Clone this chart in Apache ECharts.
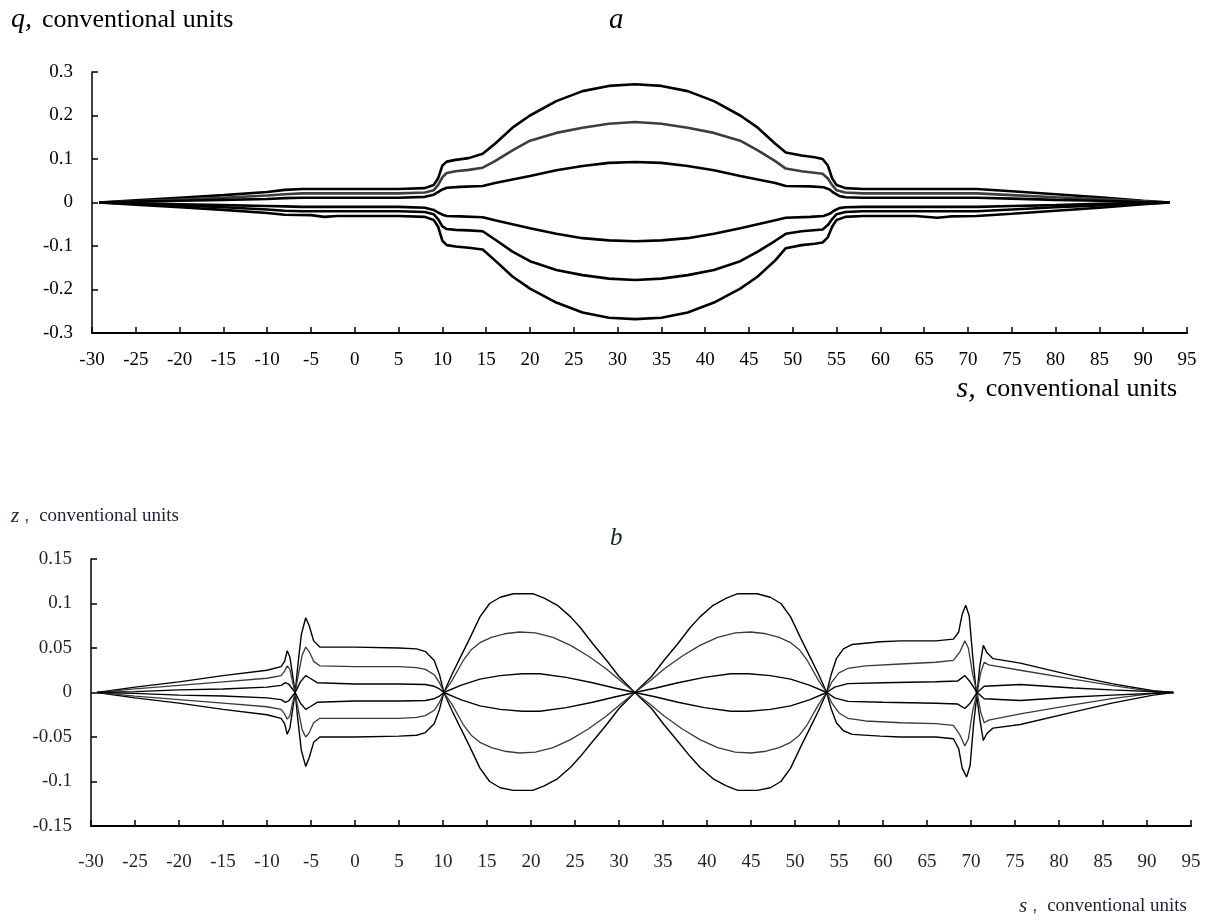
<!DOCTYPE html>
<html><head><meta charset="utf-8">
<script src="https://cdn.jsdelivr.net/npm/echarts@6/dist/echarts.min.js"></script>
<style>html,body{margin:0;padding:0;background:#fff}#c{width:1206px;height:922px}</style>
</head><body><div id="c"></div>
<script>
// ---- Chart a: q(s) ----
const qOutUp = [[-29.2,0],[-25,0.005],[-20,0.011],[-15,0.017],[-10,0.024],[-8,0.029],[-6,0.031],[0,0.031],[5,0.031],[8,0.033],[9,0.04],[9.5,0.055],[10,0.085],[10.5,0.094],[11.5,0.098],[13,0.102],[14.6,0.112],[16,0.135],[18,0.172],[20,0.2],[23,0.233],[26,0.256],[29,0.268],[32,0.272],[35,0.268],[38,0.256],[41,0.233],[44,0.2],[46,0.172],[48,0.135],[49.2,0.115],[51,0.108],[52.5,0.104],[53.4,0.1],[54,0.085],[54.5,0.055],[55,0.04],[56,0.033],[58,0.031],[65,0.031],[71,0.031],[75,0.026],[80,0.019],[85,0.012],[90,0.004],[93,0]];
const qMidUp = [[-29.2,0],[-25,0.003],[-20,0.007],[-15,0.011],[-10,0.016],[-8,0.019],[-6,0.021],[0,0.021],[5,0.021],[8,0.023],[9,0.028],[9.5,0.04],[10,0.058],[10.5,0.068],[11.5,0.072],[13,0.075],[14.6,0.08],[16,0.095],[18,0.12],[20,0.142],[23,0.16],[26,0.172],[29,0.181],[32,0.185],[35,0.181],[38,0.172],[41,0.16],[44,0.142],[46,0.12],[48,0.095],[49.2,0.078],[51,0.072],[53.4,0.066],[54,0.055],[54.5,0.04],[55,0.028],[56,0.023],[58,0.021],[65,0.021],[71,0.021],[75,0.017],[80,0.012],[85,0.008],[90,0.003],[93,0]];
const qInUp = [[-29.2,0],[-25,0.002],[-20,0.004],[-15,0.006],[-10,0.008],[-8,0.01],[-6,0.011],[0,0.011],[5,0.011],[8,0.013],[9,0.018],[9.5,0.024],[10,0.03],[10.5,0.034],[12,0.036],[14.6,0.038],[16,0.045],[18,0.053],[20,0.061],[23,0.074],[26,0.084],[29,0.091],[32,0.093],[35,0.091],[38,0.084],[41,0.074],[44,0.061],[46,0.053],[48,0.045],[49.2,0.038],[52,0.037],[53.5,0.035],[54.2,0.03],[54.7,0.022],[55.3,0.015],[56,0.012],[58,0.011],[65,0.011],[71,0.011],[75,0.009],[80,0.006],[85,0.004],[90,0.001],[93,0]];
const qInDn = [[-29.2,0],[-25,-0.002],[-20,-0.004],[-15,-0.006],[-10,-0.008],[-8,-0.009],[-6,-0.01],[0,-0.01],[5,-0.01],[8,-0.012],[9,-0.017],[9.5,-0.023],[10,-0.028],[10.5,-0.031],[12,-0.032],[14.6,-0.034],[16,-0.041],[18,-0.05],[20,-0.059],[23,-0.072],[26,-0.082],[29,-0.087],[32,-0.089],[35,-0.087],[38,-0.082],[41,-0.072],[44,-0.059],[46,-0.05],[48,-0.041],[49.2,-0.035],[52,-0.033],[53.5,-0.031],[54.2,-0.026],[54.7,-0.019],[55.3,-0.013],[56,-0.011],[58,-0.01],[65,-0.01],[71,-0.01],[75,-0.008],[80,-0.006],[85,-0.003],[90,-0.001],[93,0]];
const qMidDn = [[-29.2,0],[-25,-0.003],[-20,-0.007],[-15,-0.011],[-10,-0.016],[-8,-0.019],[-6,-0.02],[0,-0.02],[5,-0.02],[8,-0.022],[9,-0.027],[9.5,-0.038],[10,-0.055],[10.5,-0.061],[11.5,-0.063],[13,-0.064],[14.6,-0.066],[16,-0.085],[18,-0.113],[20,-0.135],[23,-0.155],[26,-0.167],[29,-0.175],[32,-0.178],[35,-0.175],[38,-0.167],[41,-0.155],[44,-0.135],[46,-0.113],[48,-0.088],[49.2,-0.072],[51,-0.066],[53.4,-0.062],[54,-0.052],[54.5,-0.038],[55,-0.027],[56,-0.022],[58,-0.02],[65,-0.02],[71,-0.02],[75,-0.016],[80,-0.011],[85,-0.007],[90,-0.003],[93,0]];
const qOutDn = [[-29.2,0],[-25,-0.005],[-20,-0.011],[-15,-0.017],[-10,-0.024],[-8,-0.028],[-5,-0.029],[-3.5,-0.033],[-2,-0.031],[0,-0.031],[5,-0.031],[8,-0.033],[9,-0.04],[9.5,-0.055],[10,-0.088],[10.5,-0.098],[11.5,-0.101],[13,-0.104],[14.6,-0.108],[16,-0.133],[18,-0.17],[20,-0.198],[23,-0.23],[26,-0.253],[29,-0.265],[32,-0.268],[35,-0.265],[38,-0.253],[41,-0.23],[44,-0.198],[46,-0.17],[48,-0.133],[49.2,-0.105],[51,-0.098],[52.5,-0.095],[53.4,-0.092],[54,-0.08],[54.5,-0.055],[55,-0.04],[56,-0.033],[58,-0.031],[64,-0.031],[66.5,-0.035],[68,-0.032],[71,-0.031],[75,-0.026],[80,-0.019],[85,-0.012],[90,-0.004],[93,0]];

// ---- Chart b: z(s) ----
const zOutA = [[-29.3,0],[-25,-0.006],[-20,-0.012],[-15,-0.019],[-10,-0.025],[-8.4,-0.029],[-8,-0.035],[-7.7,-0.047],[-7.4,-0.04],[-7.1,-0.02],[-6.8,0],[-6.5,0.03],[-6.1,0.065],[-5.6,0.084],[-5.2,0.075],[-4.7,0.058],[-4,0.051],[0,0.051],[5,0.05],[7,0.049],[8,0.046],[9,0.036],[9.6,0.02],[10.1,0],[11,0.02],[12,0.04],[13,0.06],[14.2,0.085],[15.3,0.1],[16.5,0.107],[18,0.111],[20.2,0.111],[21.5,0.106],[23,0.098],[24.5,0.085],[25.6,0.073],[27,0.055],[28.6,0.036],[30,0.018],[31.8,0],[33.7,0.018],[35.1,0.036],[36.7,0.055],[38.1,0.073],[39.2,0.085],[40.7,0.098],[42.2,0.106],[43.5,0.111],[45.7,0.111],[47.2,0.107],[48.4,0.1],[49.5,0.085],[50.7,0.06],[51.7,0.04],[52.7,0.02],[53.6,0],[54.1,0.02],[54.7,0.038],[55.5,0.049],[56.5,0.054],[59.7,0.057],[62,0.058],[66,0.058],[68,0.06],[68.6,0.068],[69,0.088],[69.4,0.098],[69.8,0.086],[70.2,0.04],[70.6,0],[71,-0.03],[71.4,-0.054],[71.8,-0.046],[72.5,-0.04],[75.6,-0.036],[81.6,-0.022],[86,-0.012],[90.7,-0.003],[93,0]];
const zOutB = [[-29.3,0],[-25,0.006],[-20,0.012],[-15,0.019],[-10,0.025],[-8.4,0.029],[-8,0.035],[-7.7,0.047],[-7.4,0.04],[-7.1,0.02],[-6.8,0],[-6.5,-0.03],[-6.1,-0.065],[-5.6,-0.083],[-5.2,-0.073],[-4.7,-0.056],[-4,-0.05],[0,-0.05],[5,-0.049],[7,-0.048],[8,-0.045],[9,-0.035],[9.6,-0.019],[10.1,0],[11,-0.02],[12,-0.04],[13,-0.06],[14.2,-0.085],[15.3,-0.1],[16.5,-0.107],[18,-0.11],[20.2,-0.11],[21.5,-0.105],[23,-0.097],[24.5,-0.084],[25.6,-0.072],[27,-0.055],[28.6,-0.036],[30,-0.018],[31.8,0],[33.7,-0.018],[35.1,-0.036],[36.7,-0.055],[38.1,-0.072],[39.2,-0.084],[40.7,-0.097],[42.2,-0.105],[43.5,-0.11],[45.7,-0.11],[47.2,-0.107],[48.4,-0.1],[49.5,-0.085],[50.7,-0.06],[51.7,-0.04],[52.7,-0.02],[53.6,0],[54.1,-0.018],[54.7,-0.034],[55.5,-0.043],[56.5,-0.047],[59.7,-0.049],[62,-0.05],[66,-0.05],[68,-0.052],[68.6,-0.063],[69,-0.085],[69.5,-0.095],[69.9,-0.082],[70.3,-0.035],[70.7,0],[71,0.03],[71.4,0.053],[71.8,0.045],[72.5,0.038],[75.6,0.033],[81.6,0.019],[86,0.01],[90.7,0.002],[93,0]];
const zMidC = [[-29.3,0],[-25,-0.004],[-20,-0.008],[-15,-0.012],[-10,-0.016],[-8.4,-0.019],[-8,-0.024],[-7.7,-0.03],[-7.4,-0.026],[-7.1,-0.012],[-6.8,0],[-6.4,0.022],[-6,0.042],[-5.6,0.051],[-5.2,0.046],[-4.7,0.035],[-4,0.03],[0,0.029],[5,0.029],[7,0.028],[8,0.026],[9,0.02],[9.6,0.011],[10.1,0],[11,0.013],[12.3,0.036],[13.2,0.048],[14.2,0.056],[15.5,0.062],[17,0.066],[18.7,0.068],[20.5,0.067],[22.5,0.062],[24.5,0.053],[26.5,0.041],[28.5,0.027],[30.2,0.013],[31.8,0],[33.5,0.013],[35.2,0.027],[37.2,0.041],[39.2,0.053],[41.2,0.062],[43.2,0.067],[45,0.068],[46.7,0.066],[48.2,0.062],[49.5,0.056],[50.5,0.048],[51.4,0.036],[52.7,0.013],[53.6,0],[54.2,0.012],[55,0.022],[56,0.027],[58,0.03],[62,0.032],[66,0.034],[68,0.036],[68.7,0.045],[69.3,0.058],[69.7,0.05],[70.2,0.02],[70.7,0],[71.1,-0.022],[71.5,-0.034],[72,-0.031],[75.6,-0.024],[81.6,-0.014],[86,-0.007],[90.7,-0.001],[93,0]];
const zMidD = [[-29.3,0],[-25,0.004],[-20,0.008],[-15,0.012],[-10,0.016],[-8.4,0.019],[-8,0.024],[-7.7,0.03],[-7.4,0.026],[-7.1,0.012],[-6.8,0],[-6.4,-0.022],[-6,-0.042],[-5.6,-0.05],[-5.2,-0.045],[-4.7,-0.034],[-4,-0.029],[0,-0.029],[5,-0.029],[7,-0.028],[8,-0.026],[9,-0.02],[9.6,-0.011],[10.1,0],[11,-0.013],[12.3,-0.036],[13.2,-0.048],[14.2,-0.056],[15.5,-0.062],[17,-0.066],[18.7,-0.068],[20.5,-0.067],[22.5,-0.062],[24.5,-0.053],[26.5,-0.041],[28.5,-0.027],[30.2,-0.013],[31.8,0],[33.5,-0.013],[35.2,-0.027],[37.2,-0.041],[39.2,-0.053],[41.2,-0.062],[43.2,-0.067],[45,-0.068],[46.7,-0.066],[48.2,-0.062],[49.5,-0.056],[50.5,-0.048],[51.4,-0.036],[52.7,-0.013],[53.6,0],[54.2,-0.012],[55,-0.023],[56,-0.029],[58,-0.032],[62,-0.034],[66,-0.035],[68,-0.037],[68.7,-0.047],[69.3,-0.06],[69.7,-0.052],[70.2,-0.02],[70.7,0],[71.1,0.022],[71.5,0.034],[72,0.031],[75.6,0.025],[81.6,0.015],[86,0.008],[90.7,0.001],[93,0]];
const zInE = [[-29.3,0],[-25,-0.001],[-20,-0.003],[-15,-0.004],[-10,-0.006],[-8.4,-0.008],[-7.9,-0.011],[-7.5,-0.009],[-6.8,0],[-6.2,0.012],[-5.6,0.019],[-5.1,0.016],[-4.3,0.011],[0,0.0095],[5,0.0095],[8,0.009],[9,0.007],[9.6,0.004],[10.1,0],[12,0.008],[14.2,0.015],[16.5,0.019],[19,0.021],[21,0.021],[24,0.017],[27,0.011],[29.5,0.005],[31.8,0],[34.2,0.005],[36.7,0.011],[39.7,0.017],[42.7,0.021],[44.7,0.021],[47.2,0.019],[49.5,0.015],[51.7,0.008],[53.6,0],[54.5,0.006],[56,0.01],[60,0.011],[66,0.012],[68.5,0.013],[69.3,0.019],[69.9,0.012],[70.7,0],[71.5,-0.007],[75.6,-0.009],[81.6,-0.005],[86,-0.003],[93,0]];
const zInF = [[-29.3,0],[-25,0.001],[-20,0.003],[-15,0.004],[-10,0.006],[-8.4,0.008],[-7.9,0.011],[-7.5,0.009],[-6.8,0],[-6.2,-0.012],[-5.6,-0.019],[-5.1,-0.016],[-4.3,-0.011],[0,-0.0095],[5,-0.0095],[8,-0.009],[9,-0.007],[9.6,-0.004],[10.1,0],[12,-0.008],[14.2,-0.015],[16.5,-0.019],[19,-0.021],[21,-0.021],[24,-0.017],[27,-0.011],[29.5,-0.005],[31.8,0],[34.2,-0.005],[36.7,-0.011],[39.7,-0.017],[42.7,-0.021],[44.7,-0.021],[47.2,-0.019],[49.5,-0.015],[51.7,-0.008],[53.6,0],[54.5,-0.006],[56,-0.01],[60,-0.011],[66,-0.012],[68.5,-0.013],[69.3,-0.018],[69.9,-0.012],[70.7,0],[71.5,0.007],[75.6,0.009],[81.6,0.005],[86,0.003],[93,0]];

const sRange = [-30, 95, 5];
const qRange = [-0.3, 0.3, 0.1];
const zRange = [-0.15, 0.15, 0.05];

const SERIF = 'Liberation Serif, Times New Roman, serif';
const BLUE = '#1b2233';
const fmt = v => String(+(+v).toFixed(2));

function xAx(grid, size, color, margin) {
  return {
    type: 'value', gridIndex: grid, min: sRange[0], max: sRange[1], interval: sRange[2],
    axisLine: {onZero: false, lineStyle: {color: '#000', width: 2}},
    axisTick: {inside: true, length: 6, lineStyle: {color: '#000', width: 1.5}},
    splitLine: {show: false},
    axisLabel: {fontFamily: SERIF, fontSize: size, color: color, margin: margin, formatter: fmt, showMinLabel: true, showMaxLabel: true}
  };
}
function yAx(grid, r, size, color) {
  return {
    type: 'value', gridIndex: grid, min: r[0], max: r[1], interval: r[2],
    axisLine: {show: true, onZero: false, lineStyle: {color: '#000', width: 1.5}},
    axisTick: {show: true, inside: true, length: 6, lineStyle: {color: '#000', width: 1.5}},
    splitLine: {show: false},
    axisLabel: {fontFamily: SERIF, fontSize: size, color: color, margin: 19, formatter: fmt}
  };
}
function line(data, xi, color, width) {
  return {type: 'line', xAxisIndex: xi, yAxisIndex: xi, data: data, showSymbol: false, symbol: 'none',
    silent: true, animation: false, lineStyle: {color: color, width: width}};
}
function rich(base, it, col) {
  return {
    i: {fontFamily: SERIF, fontStyle: 'italic', fontWeight: 'normal', fontSize: it, color: col},
    c: {fontFamily: SERIF, fontWeight: 'normal', fontSize: base, color: col}
  };
}

const chart = echarts.init(document.getElementById('c'), null, {renderer: 'canvas'});
chart.setOption({
  backgroundColor: '#fff',
  animation: false,
  grid: [
    {left: 92, right: 19, top: 72, height: 261},
    {left: 91, right: 15, top: 559, height: 267}
  ],
  xAxis: [xAx(0, 19, '#000', 18), xAx(1, 19, BLUE, 27)],
  yAxis: [yAx(0, qRange, 19, '#000'), yAx(1, zRange, 19, BLUE)],
  title: [
    {left: 6, top: 1, text: '{i|q,}  {c|conventional units}', textStyle: {fontWeight: 'normal', rich: rich(26, 28, '#000')}},
    {left: 604, top: 1, text: '{i|a}', textStyle: {fontWeight: 'normal', rich: rich(29, 29, '#000')}},
    {right: 24, top: 369, text: '{i|s,}  {c|conventional units}', textStyle: {fontWeight: 'normal', rich: rich(26, 30, '#000')}},
    {left: 6, top: 501, text: '{i|z} ,  {c|conventional units}', textStyle: {fontWeight: 'normal', rich: rich(19, 21, BLUE)}},
    {left: 605, top: 521, text: '{i|b}', textStyle: {fontWeight: 'normal', rich: rich(25, 25, BLUE)}},
    {right: 14, top: 891, text: '{i|s} ,  {c|conventional units}', textStyle: {fontWeight: 'normal', rich: rich(19, 21, BLUE)}}
  ],
  series: [
    line(qOutUp, 0, '#000', 2.6), line(qMidUp, 0, '#3d3d3d', 2.6), line(qInUp, 0, '#000', 2.6),
    line(qInDn, 0, '#000', 2.6), line(qMidDn, 0, '#000', 2.6), line(qOutDn, 0, '#000', 2.6),
    line(zOutA, 1, '#000', 1.4), line(zOutB, 1, '#000', 1.4),
    line(zMidC, 1, '#3a3a3a', 1.3), line(zMidD, 1, '#3a3a3a', 1.3),
    line(zInE, 1, '#000', 1.4), line(zInF, 1, '#000', 1.4)
  ]
});
</script></body></html>
